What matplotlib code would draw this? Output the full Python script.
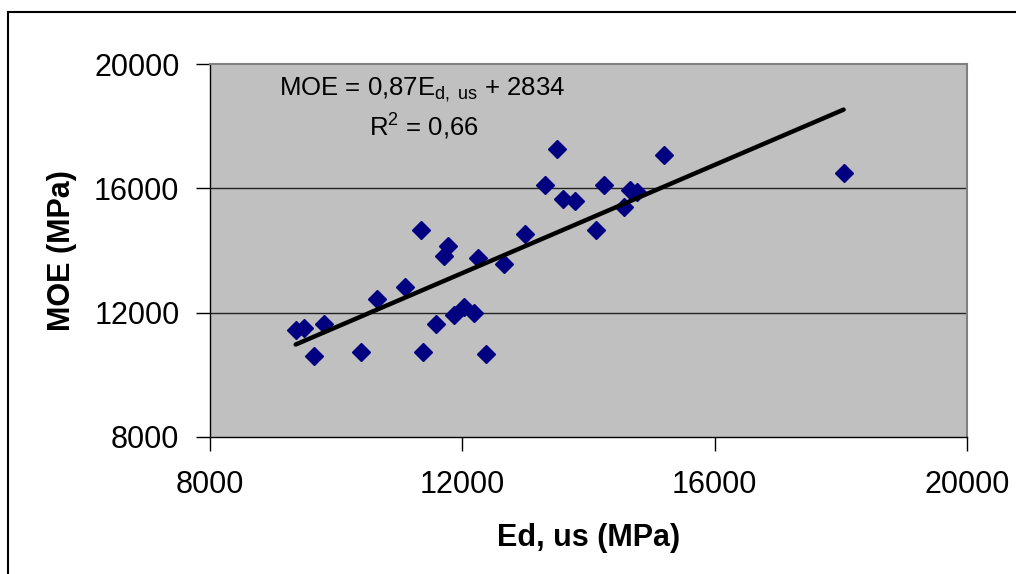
import matplotlib
matplotlib.use("Agg")
import matplotlib.pyplot as plt
from matplotlib.lines import Line2D
import numpy as np

plt.rcParams['font.family'] = ['Liberation Sans', 'DejaVu Sans']
plt.rcParams['mathtext.fontset'] = 'custom'
plt.rcParams['mathtext.rm'] = 'Liberation Sans'
plt.rcParams['mathtext.it'] = 'Liberation Sans'

# Data (Ed, us in MPa vs MOE in MPa)
ed_us = [9358, 9494, 9648, 9801, 10397, 10650, 11089, 11338, 11370, 11585,
         11712, 11775, 11870, 12029, 12187, 12250, 12372, 12653, 13001, 13318,
         13502, 13597, 13782, 14120, 14253, 14563, 14658, 14776, 15192, 18044]
moe = [11430, 11495, 10603, 11633, 10732, 12438, 12834, 14658, 10732, 11623,
       13821, 14153, 11933, 12190, 11997, 13767, 10668, 13574, 14529, 16116,
       17255, 15656, 15601, 14658, 16116, 15389, 15936, 15881, 17062, 16483]
slope = 0.87
intercept = 2834
x_ticks = [8000, 12000, 16000, 20000]
y_ticks = [8000, 12000, 16000, 20000]

fig = plt.figure(figsize=(10.16, 5.74), dpi=100)
ax = fig.add_axes([210/1016, 1 - 437/574, 757/1016, 373/574])
ax.set_facecolor('#C0C0C0')

ax.set_xlim(8000, 20000)
ax.set_ylim(8000, 20000)
ax.set_xticks(x_ticks)
ax.set_yticks(y_ticks)
ax.set_xticklabels([str(v) for v in x_ticks])
ax.set_yticklabels([str(v) for v in y_ticks])

for v in y_ticks[1:-1]:
    ax.axhline(v, color='#222222', lw=1.0, zorder=1)

ax.plot(ed_us, moe, linestyle='none', marker='D', ms=9, color='#000080',
        markeredgecolor='#000080', zorder=3)

xl = np.array([min(ed_us), max(ed_us)])
ax.plot(xl, slope * xl + intercept, color='black', lw=3.2, zorder=4,
        solid_capstyle='round')

for s in ['left', 'bottom']:
    ax.spines[s].set_color('black')
    ax.spines[s].set_linewidth(1.0)
for s in ['top', 'right']:
    ax.spines[s].set_color('#808080')
    ax.spines[s].set_linewidth(1.5)

ax.tick_params(axis='both', direction='out', length=10, width=1, labelsize=22,
               color='black')
ax.tick_params(axis='y', pad=12)
ax.tick_params(axis='x', pad=14)

ax.set_xlabel('Ed, us (MPa)', fontsize=22, fontweight='bold', labelpad=16)
ax.set_ylabel('MOE (MPa)', fontsize=22, fontweight='bold', labelpad=12)

ax.text(0.280, 0.917, r'MOE = 0,87E$_{\mathregular{d,\ us}}$ + 2834',
        transform=ax.transAxes, fontsize=18.5, ha='center', va='baseline')
ax.text(0.282, 0.808, r'R$^{\mathregular{2}}$ = 0,66',
        transform=ax.transAxes, fontsize=18.5, ha='center', va='baseline')

# outer chart border
fig.add_artist(Line2D([7.5/1016, 1.0], [1 - 12/574, 1 - 12/574],
                      transform=fig.transFigure, color='black', lw=1.5))
fig.add_artist(Line2D([7.5/1016, 7.5/1016], [0.0, 1 - 12/574],
                      transform=fig.transFigure, color='black', lw=1.5))

fig.savefig('out.png', dpi=100)
